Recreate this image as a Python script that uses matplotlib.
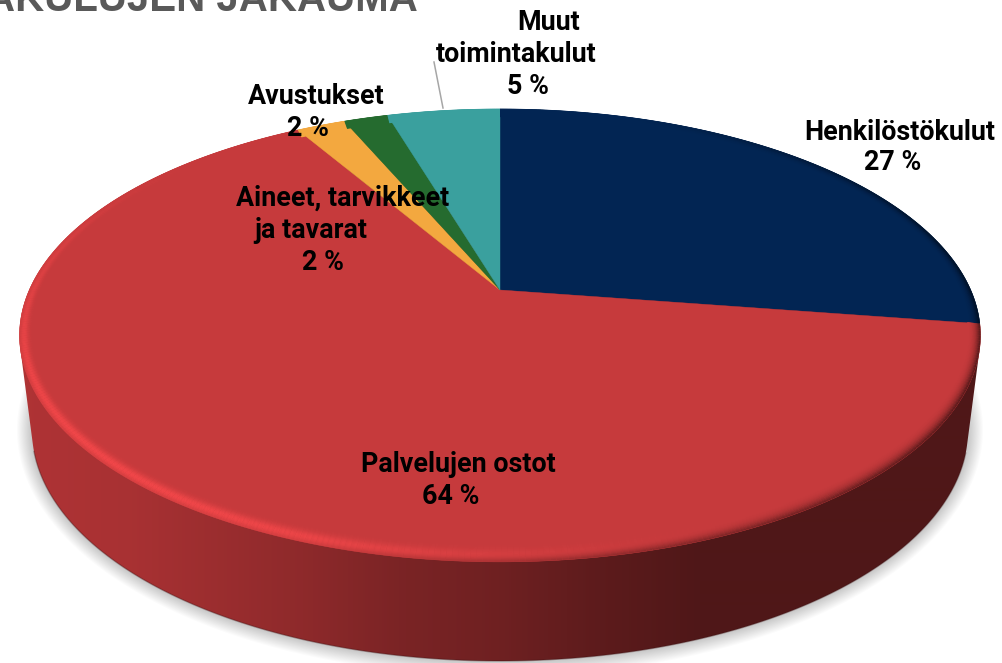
import numpy as np
import matplotlib
matplotlib.use("Agg")
import matplotlib.pyplot as plt
from matplotlib.patches import Polygon
from matplotlib.collections import LineCollection
from matplotlib.colors import to_rgb

# --- data ---
categories = ["Henkilöstökulut", "Palvelujen ostot", "Aineet, tarvikkeet ja tavarat", "Avustukset", "Muut toimintakulut"]
values = [27.4, 64.2, 2.0, 1.8, 4.6]
title_text = "AKULUJEN JAKAUMA"
label_lines = [["Henkilöstökulut"], ["Palvelujen ostot"], ["Aineet, tarvikkeet", "ja tavarat"], ["Avustukset"], ["Muut", "toimintakulut"]]

# --- style / layout ---
colors = ["#022553", "#c63a3c", "#f3a83f", "#256b2f", "#3aa09e"]
label_pos = [[(900, 132), (893, 163)],
             [(458, 465), (451, 497)],
             [(343, 198), (311, 231), (323, 263)],
             [(316, 97), (308, 129)],
             [(549, 22), (516, 54), (528, 86)]]
shade_x = [0, 30, 130, 300, 400, 500, 600, 700, 1002]
shade_v = [.88, .88, .85, .72, .62, .56, .47, .40, .40]

k = 0.2008
CX = 500
TOP = dict(b=470.7, a=217.3, y0=290.0)
BOT = dict(b=458.5, a=221.7, y0=383.6)

W, H = 1002, 663
fig = plt.figure(figsize=(W / 100, H / 100), dpi=100)
ax = fig.add_axes([0, 0, 1, 1])
ax.axis("off")


def project(theta, m, d=0.0):
    X = np.sin(theta) * (1 - d / 470)
    Y = np.cos(theta) * (1 - d / 226)
    w = 1 + k * Y
    return CX + m["b"] * X / w, m["y0"] - m["a"] * Y / w


def hull(points):
    pts = sorted(set(map(tuple, np.round(points, 3))))

    def half(seq):
        out = []
        for p in seq:
            while len(out) > 1 and ((out[-1][0] - out[-2][0]) * (p[1] - out[-2][1])
                                    - (out[-1][1] - out[-2][1]) * (p[0] - out[-2][0])) <= 0:
                out.pop()
            out.append(p)
        return out[:-1]

    return np.array(half(pts) + half(pts[::-1]))


fractions = np.array(values) / np.sum(values)
edges = np.concatenate([[0], np.cumsum(fractions)]) * 2 * np.pi

# soft shadow
full = np.linspace(0, 2 * np.pi, 400)
for d in np.linspace(15, 1, 14):
    bx, by = project(full, BOT)
    ex = CX + (bx - CX) * (1 + d / 468)
    ey = 430 + (by - 430) * (1 + d / 231)
    ax.add_patch(Polygon(np.c_[ex, ey], fc="black", ec="none", alpha=0.014, zorder=1))

# side walls
xs = np.arange(W) + 0.5
shade = np.interp(xs, shade_x, shade_v)
for i, c in enumerate(colors):
    th = np.linspace(edges[i], edges[i + 1], 300)
    tx, ty = project(th, TOP)
    bx, by = project(th, BOT)
    poly = Polygon(hull(np.r_[np.c_[tx, ty], np.c_[bx, by]]), transform=ax.transData, fc="none", ec="none")
    ax.add_patch(poly)
    grad = np.array(to_rgb(c))[None, None, :] * shade[None, :, None]
    im = ax.imshow(grad, extent=(0, W, H, 0), aspect="auto", zorder=2, interpolation="bilinear")
    im.set_clip_path(poly)
    front = by > 450
    if front.any():
        ax.plot(bx[front], by[front], color=np.array(to_rgb(c)) * 0.3, lw=1.0, alpha=0.35, zorder=2.5)

# top face
for i, c in enumerate(colors):
    th = np.linspace(edges[i], edges[i + 1], 300)
    tx, ty = project(th, TOP)
    pts = np.r_[[(CX, TOP["y0"])], np.c_[tx, ty]]
    ax.add_patch(Polygon(pts, fc=c, ec=c, lw=0.3, zorder=3))

# bevelled rim
RIM = 11.0
for d in np.arange(RIM, 0, -0.7):
    t = 1 - d / RIM
    h = np.exp(-((t - 0.65) / 0.35) ** 2)
    for i, c in enumerate(colors):
        th = np.linspace(edges[i], edges[i + 1], max(4, int(600 * fractions[i])))
        rx, ry = project(th, TOP, d)
        seg = np.stack([np.c_[rx[:-1], ry[:-1]], np.c_[rx[1:], ry[1:]]], axis=1)
        mid = 0.5 * (th[:-1] + th[1:])
        L = np.clip(np.cos(mid - np.radians(225)), 0, 1) ** 1.5
        D = np.clip(np.cos(mid - np.radians(110)), 0, 1)
        base = np.array(to_rgb(c))
        m = 1 + 0.22 * h * L
        dark = (1 - 0.6 * (t ** 2.5) * D)
        col = np.clip(base[None, :] * (m * dark)[:, None], 0, 1)
        ax.add_collection(LineCollection(seg, colors=col, linewidths=1.0, zorder=4))

# leader line
ax.plot([434, 443], [62, 108], color="#a6a6a6", lw=1.1, zorder=5)

# labels
fp = dict(family="Roboto", fontweight="bold", fontsize=19.4, color="black",
          ha="center", va="center", zorder=6)
for lines, v, positions in zip(label_lines, values, label_pos):
    for line, (x, y) in zip(lines + [f"{round(v)} %"], positions):
        ax.text(x, y, line, **fp)

# title (cut by the top edge in the reference)
ax.text(418, 11, title_text, family="Liberation Sans", fontweight="bold", fontsize=29,
        color="#595959", ha="right", va="baseline", zorder=6)

ax.set_xlim(0, W)
ax.set_ylim(H, 0)
fig.savefig("out.png", dpi=100, facecolor="white")
